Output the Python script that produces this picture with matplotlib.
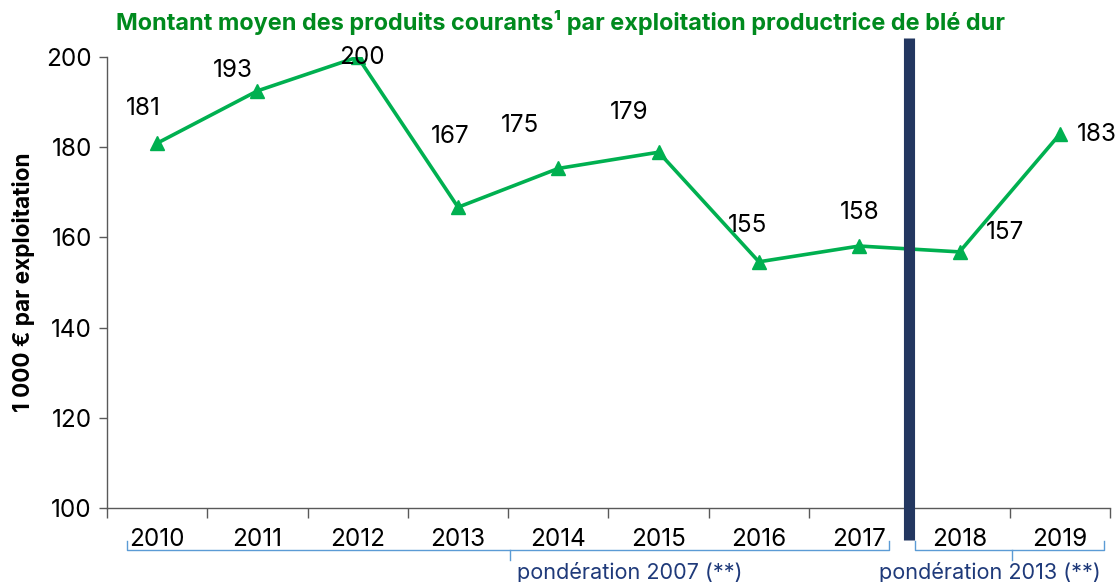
import matplotlib
matplotlib.use("Agg")
import matplotlib.pyplot as plt
from matplotlib.lines import Line2D

years = ["2010", "2011", "2012", "2013", "2014", "2015", "2016", "2017", "2018", "2019"]
values = [180.9, 192.5, 200.0, 166.7, 175.3, 178.9, 154.6, 158.1, 156.8, 182.9]
labels = ["181", "193", "200", "167", "175", "179", "155", "158", "157", "183"]
label_offsets = [(-0.14, 7.7), (-0.25, 4.6), (0.04, 0.0), (-0.08, 15.7), (-0.38, 9.6),
                 (-0.29, 8.9), (-0.11, 8.1), (0.0, 7.5), (0.45, 4.2), (0.37, 0.0)]
yticks = [100, 120, 140, 160, 180, 200]
title = "Montant moyen des produits courants¹ par exploitation productrice de blé dur"
ylabel = "1 000 € par exploitation"
group_labels = ["pondération 2007 (**)", "pondération 2013 (**)"]

plt.rcParams["font.family"] = ["Inter", "DejaVu Sans"]

fig = plt.figure(figsize=(11.17, 5.82), dpi=100)
ax = fig.add_axes([0.0958, 0.127, 0.8979, 0.775])

x = list(range(len(years)))
green = "#00b050"
ax.plot(x, values, color=green, lw=2.6, marker="^", ms=10, mec=green, mfc=green, zorder=3)

for i, (lab, (dx, dy)) in enumerate(zip(labels, label_offsets)):
    ax.text(i + dx, values[i] + dy, lab, ha="center", va="center", fontsize=17.5, color="black", zorder=4)

ax.set_xlim(-0.5, len(years) - 0.5)
ax.set_ylim(100, 200)
ax.set_yticks(yticks)
ax.set_xticks(x)
ax.set_xticklabels(years)
ax.set_xticks([i - 0.5 for i in range(len(years) + 1)], minor=True)
ax.tick_params(axis="x", which="major", length=0, labelsize=17.5, pad=14)
ax.tick_params(axis="x", which="minor", length=7, width=1, color="#595959")
ax.tick_params(axis="y", length=6, width=1, color="#595959", labelsize=17.5, pad=5)
for s in ["top", "right"]:
    ax.spines[s].set_visible(False)
for s in ["left", "bottom"]:
    ax.spines[s].set_color("#595959")
    ax.spines[s].set_linewidth(1)

ax.set_ylabel(ylabel, fontsize=16.3, fontweight="bold", labelpad=8)

# vertical separator bar
ax.add_line(Line2D([7.5, 7.5], [-0.071, 1.042], transform=ax.get_xaxis_transform(),
                   color="#233760", lw=8, clip_on=False, zorder=5, solid_capstyle="butt"))

fig.text(0.502, 0.962, title, ha="center", va="center", fontsize=16.9, fontweight="bold", color="#008a1e")

# braces
trans = ax.get_xaxis_transform()
blue = "#5b9bd5"
def brace(x0, x1, xc, y, up, down):
    ax.add_line(Line2D([x0, x0, x1, x1], [y + up, y, y, y + up], transform=trans, color=blue, lw=1, clip_on=False))
    ax.add_line(Line2D([xc, xc], [y, y - down], transform=trans, color=blue, lw=1, clip_on=False))

brace(-0.30, 7.30, 3.52, -0.094, 0.02, 0.02)
brace(7.56, 9.44, 8.52, -0.094, 0.02, 0.02)
ax.text(4.71, -0.143, group_labels[0], transform=trans, ha="center", va="center", fontsize=15.6, color="#1f3a7a")
ax.text(8.30, -0.143, group_labels[1], transform=trans, ha="center", va="center", fontsize=15.6, color="#1f3a7a")

fig.savefig("out.png", dpi=100)
